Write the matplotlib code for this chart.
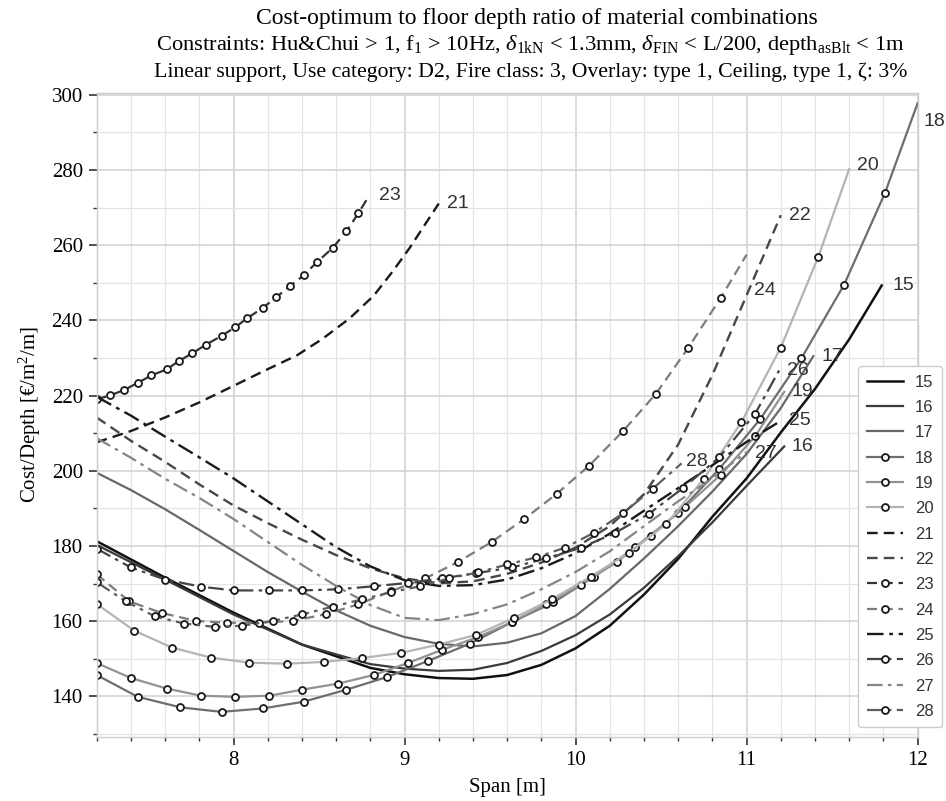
import matplotlib
matplotlib.use("Agg")
import matplotlib.pyplot as plt
from matplotlib.ticker import MultipleLocator

plt.rcParams['mathtext.fontset'] = 'custom'
plt.rcParams['mathtext.rm'] = 'Liberation Serif'
plt.rcParams['mathtext.it'] = 'Liberation Serif:italic'
plt.rcParams['font.family'] = ['Liberation Serif', 'DejaVu Serif']

# ---------------- data ----------------
x15 = [7.2, 7.6, 8.0, 8.4, 8.8, 9.0, 9.2, 9.4, 9.6, 9.8, 10.0, 10.2, 10.4, 10.6, 10.8, 11.0, 11.2, 11.4, 11.6, 11.79]
y15 = [181.3, 171.6, 162.3, 153.8, 147.6, 145.9, 144.9, 144.7, 145.7, 148.4, 152.8, 158.8, 167.1, 176.6, 187.8, 198.0, 210.2, 221.8, 235.0, 249.3]

x16 = [7.2, 7.6, 8.0, 8.4, 8.8, 9.0, 9.2, 9.4, 9.6, 9.8, 10.0, 10.2, 10.4, 10.6, 10.8, 11.0, 11.22]
y16 = [180.3, 171.1, 161.8, 153.8, 148.6, 147.4, 146.8, 147.1, 148.9, 152.1, 156.3, 161.8, 168.9, 177.3, 186.3, 196.0, 206.5]

x17 = [7.2, 7.4, 7.6, 7.8, 8.0, 8.2, 8.4, 8.6, 8.8, 9.0, 9.2, 9.4, 9.6, 9.8, 10.0, 10.2, 10.4, 10.6, 10.8, 11.0, 11.2, 11.39]
y17 = [199.5, 194.9, 189.8, 184.3, 178.7, 173.1, 167.9, 162.9, 158.8, 155.8, 154.0, 153.3, 154.3, 156.8, 161.4, 168.6, 176.7, 185.3, 194.5, 204.5, 216.7, 230.5]

x18 = [7.2, 7.44, 7.69, 7.93, 8.17, 8.41, 8.66, 8.90, 9.14, 9.38, 9.63, 9.87, 10.11, 10.35, 10.60, 10.84, 11.08, 11.32, 11.57, 11.81, 12.0]
y18 = [145.7, 139.9, 137.1, 135.9, 136.8, 138.6, 141.8, 145.2, 149.5, 154.0, 159.8, 165.0, 171.9, 179.7, 188.8, 200.5, 213.8, 229.9, 249.5, 274.0, 297.8]

x19 = [7.2, 7.40, 7.61, 7.81, 8.01, 8.21, 8.40, 8.61, 8.82, 9.02, 9.22, 9.43, 9.63, 9.83, 10.03, 10.24, 10.44, 10.64, 10.85, 11.05, 11.22]
y19 = [148.9, 144.9, 142.1, 140.2, 139.9, 140.2, 141.8, 143.4, 145.7, 148.9, 152.4, 155.8, 159.8, 164.6, 169.7, 175.7, 182.8, 190.4, 199.0, 209.2, 221.0]

x20 = [7.2, 7.42, 7.64, 7.87, 8.09, 8.31, 8.53, 8.75, 8.98, 9.2, 9.42, 9.64, 9.86, 10.09, 10.31, 10.53, 10.75, 10.97, 11.2, 11.42, 11.6]
y20 = [164.6, 157.5, 153.0, 150.3, 149.0, 148.7, 149.2, 150.2, 151.6, 153.8, 156.4, 160.9, 165.8, 171.9, 178.2, 185.8, 197.9, 213.0, 232.8, 257.0, 280.3]

x21 = [7.2, 7.4, 7.6, 7.8, 8.0, 8.17, 8.37, 8.52, 8.68, 8.82, 8.93, 9.03, 9.2]
y21 = [207.6, 210.6, 214.2, 218.2, 222.6, 226.4, 230.7, 235.1, 240.6, 246.6, 253.0, 259.3, 271.1]

x22 = [7.2, 7.4, 7.6, 7.8, 8.0, 8.2, 8.4, 8.6, 8.8, 9.0, 9.2, 9.4, 9.6, 9.8, 10.0, 10.2, 10.4, 10.6, 10.8, 11.0, 11.2]
y22 = [214.2, 208.0, 202.4, 196.4, 190.8, 186.1, 181.7, 177.6, 174.1, 171.4, 170.1, 170.6, 172.6, 175.6, 179.6, 185.3, 193.8, 207.0, 225.5, 246.7, 268.0]

x23 = [7.2, 7.28, 7.36, 7.44, 7.52, 7.61, 7.68, 7.76, 7.84, 7.93, 8.01, 8.08, 8.17, 8.25, 8.33, 8.41, 8.49, 8.58, 8.66, 8.73, 8.79]
y23 = [219.0, 220.1, 221.5, 223.4, 225.4, 227.0, 229.2, 231.3, 233.6, 235.9, 238.2, 240.6, 243.3, 246.2, 249.1, 252.0, 255.6, 259.3, 263.7, 268.5, 273.0]

x24 = [7.2, 7.39, 7.58, 7.78, 7.96, 8.15, 8.35, 8.54, 8.73, 8.92, 9.12, 9.31, 9.51, 9.70, 9.89, 10.08, 10.28, 10.47, 10.66, 10.85, 11.0]
y24 = [172.5, 165.3, 162.2, 160.1, 159.6, 159.6, 160.1, 161.9, 164.5, 168.0, 171.4, 175.7, 181.1, 187.2, 193.9, 201.4, 210.7, 220.5, 232.8, 246.1, 257.5]

x25 = [7.2, 7.4, 7.6, 7.8, 8.0, 8.2, 8.4, 8.6, 8.8, 9.0, 9.2, 9.4, 9.6, 9.8, 10.0, 10.2, 10.4, 10.6, 10.8, 11.0, 11.2]
y25 = [219.7, 214.7, 209.1, 203.6, 198.0, 191.9, 185.8, 179.7, 174.6, 170.9, 169.4, 169.6, 171.1, 174.1, 178.1, 183.3, 189.4, 195.4, 201.5, 207.7, 213.3]

x26 = [7.2, 7.40, 7.60, 7.81, 8.0, 8.21, 8.40, 8.61, 8.82, 9.02, 9.22, 9.42, 9.63, 9.83, 10.03, 10.23, 10.43, 10.63, 10.84, 11.05, 11.19]
y26 = [179.3, 174.3, 171.1, 169.2, 168.2, 168.2, 168.2, 168.5, 169.3, 170.2, 171.4, 172.8, 174.3, 176.8, 179.5, 183.5, 188.6, 195.5, 203.6, 215.2, 226.7]

x27 = [7.2, 7.4, 7.6, 7.8, 8.0, 8.2, 8.4, 8.6, 8.8, 9.0, 9.2, 9.4, 9.6, 9.8, 10.0, 10.2, 10.4, 10.6, 10.8, 11.0]
y27 = [208.7, 203.5, 197.9, 192.8, 187.2, 181.1, 175.0, 169.4, 164.3, 160.9, 160.3, 161.9, 164.5, 168.5, 173.1, 178.6, 185.3, 191.9, 198.0, 205.0]

x28 = [7.2, 7.37, 7.54, 7.71, 7.89, 8.05, 8.23, 8.40, 8.58, 8.75, 8.92, 9.09, 9.26, 9.43, 9.60, 9.77, 9.94, 10.11, 10.28, 10.45, 10.62]
y28 = [170.4, 165.3, 161.3, 159.4, 158.5, 158.8, 160.1, 161.8, 163.9, 165.8, 167.7, 169.3, 171.4, 173.0, 175.1, 177.0, 179.6, 183.6, 188.8, 195.2, 202.0]

series_names = ['15', '16', '17', '18', '19', '20', '21', '22', '23', '24', '25', '26', '27', '28']
series_x = [x15, x16, x17, x18, x19, x20, x21, x22, x23, x24, x25, x26, x27, x28]
series_y = [y15, y16, y17, y18, y19, y20, y21, y22, y23, y24, y25, y26, y27, y28]

# end-of-line label positions (data coords)
label_x = [11.915, 11.325, 11.50, 12.10, 11.325, 11.71, 9.31, 11.31, 8.915, 11.11, 11.31, 11.30, 11.11, 10.71]
label_y = [249.3, 206.6, 230.3, 293.0, 221.0, 281.3, 271.1, 267.9, 273.3, 247.9, 213.3, 226.6, 204.5, 202.6]

# ---------------- styles ----------------
DASH = (0, (4.5, 2.6))
DASHDOT = (0, (7, 2.4, 1.6, 2.4))
styles = [
    dict(color='#111111', ls='-', marker=None, lw=1.8),
    dict(color='#3a3a3a', ls='-', marker=None, lw=1.6),
    dict(color='#686868', ls='-', marker=None, lw=1.6),
    dict(color='#6e6e6e', ls='-', marker='o', lw=1.6),
    dict(color='#929292', ls='-', marker='o', lw=1.6),
    dict(color='#b4b4b4', ls='-', marker='o', lw=1.6),
    dict(color='#1a1a1a', ls=DASH, marker=None, lw=1.7),
    dict(color='#484848', ls=DASH, marker=None, lw=1.7),
    dict(color='#333333', ls=DASH, marker='o', lw=1.6),
    dict(color='#7c7c7c', ls=DASH, marker='o', lw=1.6),
    dict(color='#1a1a1a', ls=DASHDOT, marker=None, lw=1.7),
    dict(color='#444444', ls=DASHDOT, marker='o', lw=1.6),
    dict(color='#858585', ls=DASHDOT, marker=None, lw=1.6),
    dict(color='#5e5e5e', ls=DASHDOT, marker='o', lw=1.6),
]

fig = plt.figure(figsize=(9.46, 8.01), dpi=100)
ax = fig.add_axes([0.1022, 0.0803, 0.8678, 0.8036])

handles = []
for name, xs, ys, st in zip(series_names, series_x, series_y, styles):
    kw = dict(color=st['color'], linestyle=st['ls'], linewidth=st['lw'], label=name)
    if st['marker']:
        kw.update(marker='o', markersize=5, markerfacecolor='white',
                  markeredgecolor='#1a1a1a', markeredgewidth=1.3,
                  markevery=list(range(len(xs) - 1)))
    ln, = ax.plot(xs, ys, **kw)
    handles.append(ln)

for name, lx, ly in zip(series_names, label_x, label_y):
    ax.text(lx, ly, name, fontsize=14, family=['Liberation Sans', 'DejaVu Sans'],
            color='#333333', ha='center', va='center', clip_on=False)

ax.set_xlim(7.2, 12.0)
ax.set_ylim(129.3, 300.5)
ax.xaxis.set_major_locator(MultipleLocator(1))
ax.xaxis.set_minor_locator(MultipleLocator(0.2))
ax.yaxis.set_major_locator(MultipleLocator(20))
ax.yaxis.set_minor_locator(MultipleLocator(10))
ax.grid(which='major', color='#d4d4d4', linewidth=1.2)
ax.grid(which='minor', color='#e4e4e4', linewidth=0.9)
ax.set_axisbelow(True)
for s in ax.spines.values():
    s.set_color('#cccccc')
    s.set_linewidth(1.0)
ax.tick_params(which='major', direction='out', length=6, width=1.2, color='#333333',
               labelsize=15, pad=4)
ax.tick_params(which='minor', direction='out', length=3, width=1.0, color='#333333')

ax.set_xlabel('Span [m]', fontsize=15, labelpad=6)
ax.set_ylabel('Cost/Depth [€/m$^2$/m]', fontsize=15, labelpad=6)

fig.text(0.567, 0.977, 'Cost-optimum to floor depth ratio of material combinations',
         fontsize=17, ha='center', va='center')
fig.text(0.561, 0.944,
         r'Constraints: Hu&Chui > 1, f$_1$ > 10Hz, $\delta_{\mathrm{1kN}}$ < 1.3mm, '
         r'$\delta_{\mathrm{FIN}}$ < L/200, depth$_{\mathrm{asBlt}}$ < 1m',
         fontsize=16.2, ha='center', va='center')
fig.text(0.561, 0.910,
         'Linear support, Use category: D2, Fire class: 3, Overlay: type 1, Ceiling, type 1, ζ: 3%',
         fontsize=15.7, ha='center', va='center')

leg = ax.legend(handles=handles, loc='lower right', bbox_to_anchor=(0.996, 0.092),
                bbox_transform=fig.transFigure, borderaxespad=0.0, frameon=True, fancybox=True,
                edgecolor='#cccccc', facecolor='white', framealpha=1.0,
                handlelength=2.2, handletextpad=0.7, labelspacing=0.62, borderpad=0.5,
                prop={'family': ['Liberation Sans', 'DejaVu Sans'], 'size': 12})
for t in leg.get_texts():
    t.set_color('#333333')

fig.savefig('out.png', dpi=100)
